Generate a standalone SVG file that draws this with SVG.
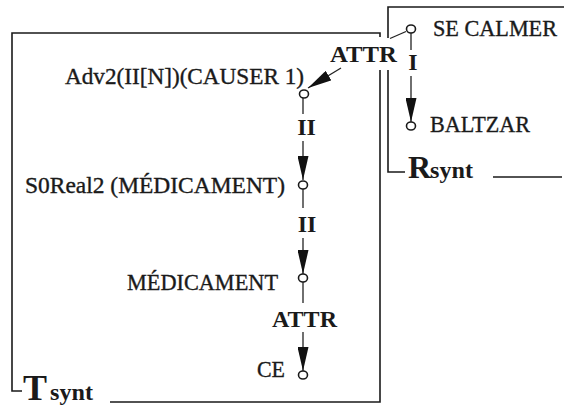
<svg xmlns="http://www.w3.org/2000/svg" width="564" height="409" viewBox="0 0 564 409">
<style>
.frame{fill:none;stroke:#1a1a1a;stroke-width:1.6}
.edge{fill:none;stroke:#222;stroke-width:1.3}
.node{fill:#fff;stroke:#1a1a1a;stroke-width:1.6}
.t{font-family:"Liberation Serif","Times New Roman",serif;font-size:22.5px;fill:#1a1a1a;stroke:#1a1a1a;stroke-width:0.35}
.lab{font-family:"Liberation Serif","Times New Roman",serif;font-size:24px;font-weight:bold;fill:#1a1a1a}
.big{font-family:"Liberation Serif","Times New Roman",serif;font-weight:bold;fill:#1a1a1a}
</style>
<defs>
<marker id="ah" markerUnits="userSpaceOnUse" markerWidth="24" markerHeight="11" viewBox="0 0 24 11" refX="24" refY="5.5" orient="auto">
<path d="M0,0 L24,5.5 L0,11 z" fill="#111"/>
</marker>
</defs>
<rect width="564" height="409" fill="#fff"/>
<g id="frame-Tsynt">
<path class="frame" d="M22,391 L12,391 L12,33 L380,33 L380,37"/>
<path class="frame" d="M380,70 L380,402 L110,402"/>
<text class="big" x="23" y="400"><tspan font-size="36">T</tspan><tspan font-size="24" x="50" textLength="43" lengthAdjust="spacingAndGlyphs">synt</tspan></text>
</g>
<g id="frame-Rsynt">
<path class="frame" d="M388,38 L388,7 L564,7"/>
<path class="frame" d="M388,70 L388,172 L405,172"/>
<path class="frame" d="M493,177 L562,177"/>
<text class="big" x="408" y="178"><tspan font-size="32">R</tspan><tspan font-size="24" x="430" textLength="43" lengthAdjust="spacingAndGlyphs">synt</tspan></text>
</g>
<g id="connectors">
<line class="edge" x1="390" y1="38.5" x2="406" y2="31.5"/>
<line class="edge" x1="341" y1="68" x2="308" y2="88" marker-end="url(#ah)"/>
<text class="lab" x="330" y="62" textLength="67" lengthAdjust="spacingAndGlyphs">ATTR</text>
<line class="edge" x1="411" y1="33" x2="411" y2="50"/>
<line class="edge" x1="411" y1="76" x2="411" y2="122" marker-end="url(#ah)"/>
<text class="lab" x="413" y="70" text-anchor="middle">I</text>
<line class="edge" x1="303" y1="98" x2="303" y2="114"/>
<line class="edge" x1="303" y1="141" x2="303" y2="180" marker-end="url(#ah)"/>
<text class="lab" x="306.5" y="135" text-anchor="middle">II</text>
<line class="edge" x1="303" y1="189" x2="303" y2="208"/>
<line class="edge" x1="303" y1="238" x2="303" y2="274" marker-end="url(#ah)"/>
<text class="lab" x="307" y="232" text-anchor="middle">II</text>
<line class="edge" x1="303" y1="282" x2="303" y2="303"/>
<line class="edge" x1="303" y1="332" x2="303" y2="371" marker-end="url(#ah)"/>
<text class="lab" x="272" y="327" textLength="65" lengthAdjust="spacingAndGlyphs">ATTR</text>
</g>
<g id="node-se-calmer">
<ellipse class="node" cx="411" cy="29" rx="4.5" ry="4"/>
<text class="t" x="433" y="36" textLength="124" lengthAdjust="spacingAndGlyphs">SE CALMER</text>
</g>
<g id="node-baltzar">
<ellipse class="node" cx="411" cy="126" rx="4.5" ry="4"/>
<text class="t" x="430" y="132" textLength="100" lengthAdjust="spacingAndGlyphs">BALTZAR</text>
</g>
<g id="node-adv2">
<ellipse class="node" cx="304" cy="94" rx="4.5" ry="4"/>
<text class="t" x="65" y="84" textLength="239" lengthAdjust="spacingAndGlyphs">Adv2(II[N])(CAUSER 1)</text>
</g>
<g id="node-s0real2">
<ellipse class="node" cx="303" cy="185" rx="4.5" ry="4"/>
<text class="t" x="25" y="193" textLength="260" lengthAdjust="spacingAndGlyphs">S0Real2 (MÉDICAMENT)</text>
</g>
<g id="node-medicament">
<ellipse class="node" cx="303" cy="278" rx="4.5" ry="4"/>
<text class="t" x="127" y="290" textLength="151" lengthAdjust="spacingAndGlyphs">MÉDICAMENT</text>
</g>
<g id="node-ce">
<ellipse class="node" cx="303" cy="375" rx="4.5" ry="4"/>
<text class="t" x="257" y="377" textLength="28" lengthAdjust="spacingAndGlyphs">CE</text>
</g>
</svg>
